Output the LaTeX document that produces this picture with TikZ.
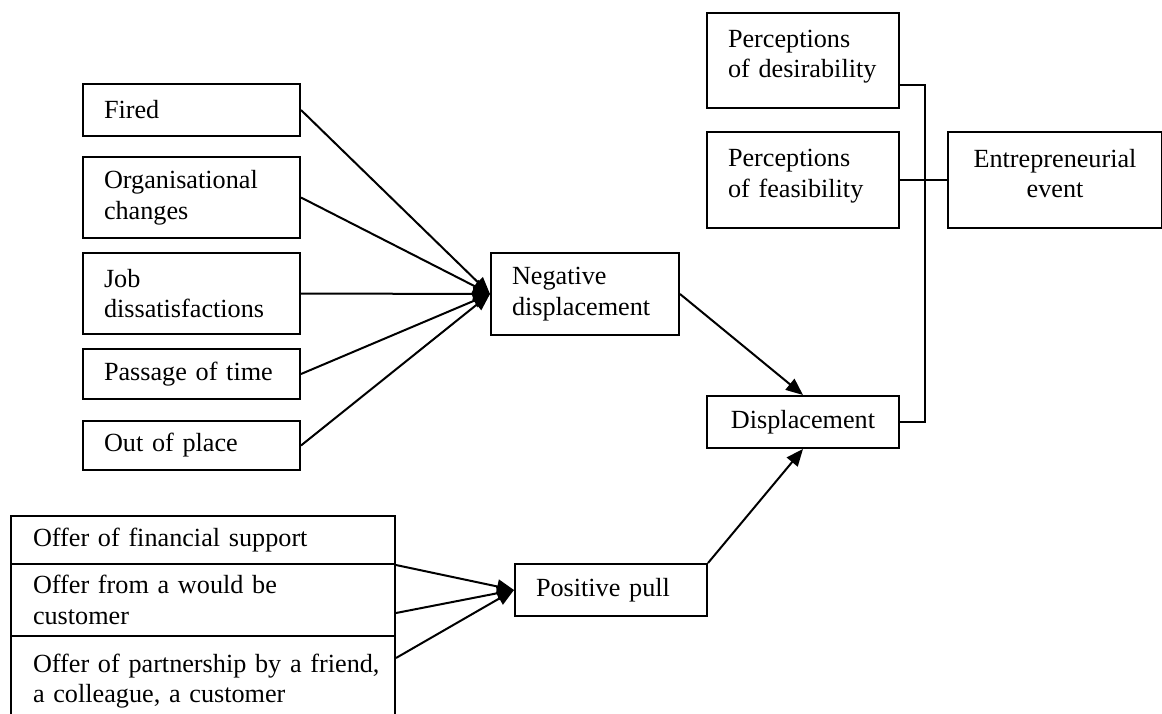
\documentclass[tikz,border=0pt]{standalone}
\usepackage{fontspec}
\setmainfont{Liberation Serif}
\usetikzlibrary{arrows.meta,calc}

\begin{document}
\begin{tikzpicture}[x=1pt,y=-1pt,
    line width=2pt,
    every node/.style={font=\fontsize{26.2}{30.5}\selectfont},
    tbox/.style={draw, line width=2pt, anchor=north west, inner ysep=0pt,
      inner xsep=21pt, align=left},
    cbox/.style={draw, line width=2pt, anchor=north west, inner ysep=0pt,
      inner xsep=10pt, align=center},
    raised/.style={text depth=44pt},
    link/.style={line width=2pt, -{Triangle[length=17pt,width=14pt]}},
    wire/.style={line width=2pt}]
  \useasboundingbox (0,0) rectangle (1162,713);
  \clip (0,0) rectangle (1162,713);

  % causes of negative displacement
  \node[tbox, text width=175pt, minimum height=52pt] (fired) at (82,83) {Fired};
  \node[tbox, text width=175pt, minimum height=81pt] (org) at (82,156) {Organisational\\changes};
  \node[tbox, text width=175pt, minimum height=81pt] (job) at (82,252) {Job\\dissatisfactions};
  \node[tbox, text width=175pt, minimum height=50pt] (pass) at (82,348) {Passage of time};
  \node[tbox, text width=175pt, minimum height=49pt] (out) at (82,420) {Out of place};

  % sources of positive pull
  \node[tbox, inner xsep=22pt, text width=340pt, minimum height=48pt] (b1) at (10,515) {Offer of financial support};
  \node[tbox, inner xsep=22pt, text width=340pt, minimum height=72pt] (b2) at (10,563) {Offer from a would be\\customer};
  \node[tbox, inner xsep=22pt, text width=340pt, minimum height=90pt] (b3) at (10,635)
    {\mbox{Offer of partnership by a friend,}\\\mbox{a colleague, a customer}};

  % intermediate and outcome boxes
  \node[tbox, text width=146pt, minimum height=82pt] (nd) at (490,252) {Negative\\displacement};
  \node[tbox, text width=150pt, minimum height=52pt] (pp) at (514,563) {Positive pull};
  \node[cbox, text width=172pt, minimum height=52pt] (disp) at (706,395) {Displacement};
  \node[tbox, raised, text width=150pt, minimum height=95pt] (des) at (706,12) {Perceptions\\of desirability};
  \node[tbox, raised, text width=150pt, minimum height=96pt] (fea) at (706,131) {Perceptions\\of feasibility};
  \node[cbox, raised, text width=194pt, minimum height=96pt] (ent) at (947,131) {Entrepreneurial\\event};

  % arrows into negative displacement
  \foreach \s in {fired,org,job,pass,out}
    \draw[link] (\s.east) -- (nd.west);

  % arrows into positive pull
  \coordinate (s2) at ($(b2.south east)+(0,-24)$);
  \coordinate (s3) at ($(b3.north east)+(0,23)$);
  \draw[link] (b1.south east) -- (pp.west);
  \draw[link] (s2) -- (pp.west);
  \draw[link] (s3) -- (pp.west);

  % arrows into displacement
  \draw[link] (nd.east) -- (disp.north);
  \draw[link] (pp.north east) -- (disp.south);

  % bracket joining the three antecedents to the event
  \coordinate (dout) at ($(des.south east)+(0,-24)$);
  \draw[wire] (dout) -- ++(25,0) |- (disp.east);
  \draw[wire] (fea.east) -- (ent.west);
\end{tikzpicture}
\end{document}
